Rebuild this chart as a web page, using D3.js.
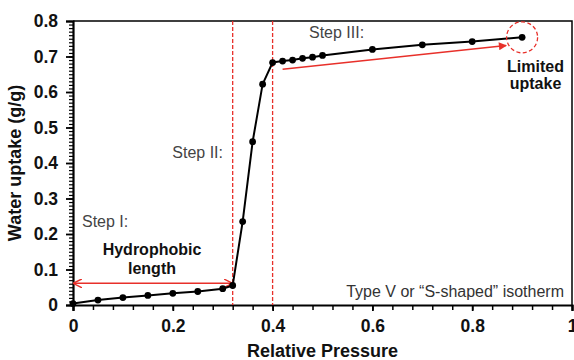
<!DOCTYPE html>
<html>
<head>
<meta charset="utf-8">
<script src="https://cdn.jsdelivr.net/npm/d3@7"></script>
<style>
  body { margin: 0; background: #fff; }
  svg { display: block; font-family: Arial, "Liberation Sans", sans-serif; }
</style>
</head>
<body>
<svg width="574" height="360"></svg>
<script>
// relative pressure (x) and water uptake (y)
const pressure = [0, 0.05, 0.1, 0.15, 0.2, 0.25, 0.3, 0.32, 0.34, 0.36, 0.38, 0.40,
  0.42, 0.44, 0.46, 0.48, 0.50, 0.6, 0.7, 0.8, 0.9];
const uptake = [0.004, 0.014, 0.021, 0.027, 0.033, 0.038, 0.046, 0.055, 0.235, 0.46, 0.622, 0.683,
  0.687, 0.69, 0.695, 0.698, 0.703, 0.72, 0.733, 0.742, 0.754];
const xTicks = [0, 0.2, 0.4, 0.6, 0.8, 1];
const yTicks = [0, 0.1, 0.2, 0.3, 0.4, 0.5, 0.6, 0.7, 0.8];
const stepLines = [0.32, 0.40];

const svg = d3.select('svg'),
  margin = {top: 21, right: 2, bottom: 55, left: 73},
  width = +svg.attr('width') - margin.left - margin.right,
  height = +svg.attr('height') - margin.top - margin.bottom;

const x = d3.scaleLinear().domain([0, 1]).range([0, width]),
  y = d3.scaleLinear().domain([0, 0.8]).range([height, 0]);

const g = svg.append('g')
  .attr('transform', 'translate(' + margin.left + ',' + margin.top + ')');

// frame (top/right)
g.append('path')
  .attr('d', 'M0,0H' + width + 'V' + height)
  .attr('fill', 'none').attr('stroke', '#000').attr('stroke-width', 1.5);

// minor ticks
g.append('g')
  .attr('transform', 'translate(0,' + height + ')')
  .call(d3.axisBottom(x).tickValues(d3.range(0, 1.001, 0.04)).tickSize(5).tickFormat(''))
  .call(a => a.select('.domain').remove())
  .selectAll('line').attr('stroke-width', 1.5);
g.append('g')
  .call(d3.axisLeft(y).tickValues(d3.range(0, 0.801, 0.01)).tickSize(4).tickFormat(''))
  .call(a => a.select('.domain').remove())
  .selectAll('line').attr('stroke-width', 1.2);

// major axes
const xAxis = g.append('g')
  .attr('transform', 'translate(0,' + height + ')')
  .call(d3.axisBottom(x).tickValues(xTicks).tickSize(6).tickPadding(9).tickFormat(d3.format('~g')));
const yAxis = g.append('g')
  .call(d3.axisLeft(y).tickValues(yTicks).tickSize(7).tickPadding(8).tickFormat(d3.format('~g')));
[xAxis, yAxis].forEach(a => {
  a.select('.domain').attr('stroke-width', 2.2);
  a.selectAll('line').attr('stroke-width', 1.8);
  a.selectAll('text').attr('font-size', 17.5).attr('font-weight', 'bold')
    .attr('font-family', 'Arial, "Liberation Sans", sans-serif').attr('fill', '#111');
});

// axis titles
svg.append('text')
  .attr('x', margin.left + width / 2).attr('y', 357)
  .attr('text-anchor', 'middle').attr('font-size', 18).attr('font-weight', 'bold')
  .attr('fill', '#111').text('Relative Pressure');
svg.append('text')
  .attr('transform', 'translate(21,' + (margin.top + height / 2) + ') rotate(-90)')
  .attr('text-anchor', 'middle').attr('font-size', 18).attr('font-weight', 'bold')
  .attr('fill', '#111').text('Water uptake (g/g)');

// red dashed step lines
g.selectAll('.step').data(stepLines).enter().append('line')
  .attr('x1', d => x(d)).attr('x2', d => x(d))
  .attr('y1', 0).attr('y2', height)
  .attr('stroke', '#e8302a').attr('stroke-width', 1.3).attr('stroke-dasharray', '4,2');

// arrow markers
const defs = svg.append('defs');
defs.append('marker').attr('id', 'arr').attr('viewBox', '0 0 10 10')
  .attr('refX', 9).attr('refY', 5).attr('markerWidth', 9).attr('markerHeight', 9)
  .attr('markerUnits', 'userSpaceOnUse').attr('orient', 'auto-start-reverse')
  .append('path').attr('d', 'M0,0L10,5L0,10').attr('fill', 'none')
  .attr('stroke', '#e8302a').attr('stroke-width', 1.6);
defs.append('marker').attr('id', 'arrFill').attr('viewBox', '0 0 10 10')
  .attr('refX', 9).attr('refY', 5).attr('markerWidth', 10).attr('markerHeight', 8)
  .attr('markerUnits', 'userSpaceOnUse').attr('orient', 'auto')
  .append('path').attr('d', 'M0,0L10,5L0,10Z').attr('fill', '#e8302a');

// hydrophobic length double arrow
g.append('line')
  .attr('x1', x(0) + 1).attr('x2', x(0.32) - 1)
  .attr('y1', y(0.061)).attr('y2', y(0.061))
  .attr('stroke', '#e8302a').attr('stroke-width', 1.5)
  .attr('marker-start', 'url(#arr)').attr('marker-end', 'url(#arr)');

// step III arrow
g.append('line')
  .attr('x1', x(0.42)).attr('y1', y(0.664))
  .attr('x2', x(0.868)).attr('y2', y(0.731))
  .attr('stroke', '#e8302a').attr('stroke-width', 1.6)
  .attr('marker-end', 'url(#arrFill)');

// data line + points
const pts = pressure.map((p, i) => [p, uptake[i]]);
g.append('path').datum(pts)
  .attr('d', d3.line().x(d => x(d[0])).y(d => y(d[1])))
  .attr('fill', 'none').attr('stroke', '#000').attr('stroke-width', 2);
g.selectAll('.pt').data(pts).enter().append('circle')
  .attr('cx', d => x(d[0])).attr('cy', d => y(d[1])).attr('r', 3.4).attr('fill', '#000');

// limited uptake circle
const last = pts[pts.length - 1];
g.append('circle')
  .attr('cx', x(last[0])).attr('cy', y(last[1])).attr('r', 15.5)
  .attr('fill', 'none').attr('stroke', '#e8302a').attr('stroke-width', 1.3)
  .attr('stroke-dasharray', '4,2.5');

// annotations
const note = (tx, ty, txt, opt) => svg.append('text')
  .attr('x', tx).attr('y', ty).text(txt)
  .attr('font-size', opt.size || 16)
  .attr('font-weight', opt.bold ? 'bold' : 'normal')
  .attr('text-anchor', opt.anchor || 'start')
  .attr('fill', opt.fill || '#333');
note(309, 38, 'Step III:', {fill: '#444'});
note(535.5, 72, 'Limited', {bold: true, anchor: 'middle', fill: '#111'});
note(535.5, 89, 'uptake', {bold: true, anchor: 'middle', fill: '#111'});
note(223, 158, 'Step II:', {anchor: 'end', fill: '#444'});
note(82, 227, 'Step I:', {fill: '#444'});
note(152, 255, 'Hydrophobic', {bold: true, anchor: 'middle', fill: '#111'});
note(152, 274, 'length', {bold: true, anchor: 'middle', fill: '#111'});
note(564, 297, 'Type V or \u201cS-shaped\u201d isotherm', {anchor: 'end', fill: '#333'});
</script>
</body>
</html>
